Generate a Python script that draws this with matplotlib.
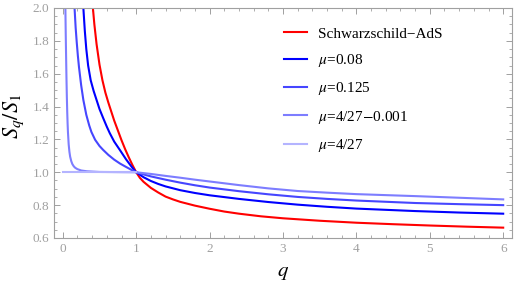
import numpy as np
import matplotlib.pyplot as plt
from matplotlib.ticker import MultipleLocator

plt.rcParams['mathtext.fontset'] = 'stix'
plt.rcParams['font.family'] = ['Liberation Serif', 'DejaVu Serif']

# values
q_sads = [0.39, 0.41, 0.43, 0.46, 0.50, 0.54, 0.58, 0.62, 0.66, 0.70, 0.75, 0.80,
          0.85, 0.90, 0.95, 1.0, 1.05, 1.1, 1.2, 1.3, 1.4, 1.5, 1.6, 1.8, 2.0,
          2.2, 2.4, 2.7, 3.0, 3.5, 4.0, 4.5, 5.0, 5.5, 6.0]
s_sads = [2.12, 2.0, 1.90, 1.78, 1.655, 1.56, 1.485, 1.425, 1.37, 1.315, 1.255, 1.195,
          1.14, 1.09, 1.043, 1.0, 0.966, 0.942, 0.905, 0.877, 0.852, 0.835, 0.82, 0.797, 0.778,
          0.761, 0.748, 0.732, 0.72, 0.705, 0.693, 0.684, 0.676, 0.669, 0.663]

q_008 = [0.27, 0.28, 0.30, 0.32, 0.345, 0.38, 0.42, 0.46, 0.50, 0.55, 0.60, 0.64,
         0.70, 0.78, 0.86, 0.94, 1.0, 1.1, 1.2, 1.3, 1.4, 1.6, 1.8, 2.0, 2.4,
         2.8, 3.2, 3.6, 4.0, 4.8, 5.4, 6.0]
s_008 = [2.1, 2.0, 1.86, 1.75, 1.65, 1.56, 1.495, 1.44, 1.385, 1.33, 1.277, 1.238,
         1.187, 1.134, 1.08, 1.032, 1.0, 0.97, 0.947, 0.929, 0.914, 0.891, 0.874, 0.86, 0.838,
         0.819, 0.803, 0.79, 0.779, 0.764, 0.755, 0.748]

q_0125 = [0.155, 0.16, 0.175, 0.19, 0.205, 0.22, 0.25, 0.28, 0.32, 0.36, 0.39, 0.44,
          0.50, 0.55, 0.62, 0.70, 0.78, 0.86, 0.93, 1.0, 1.1, 1.2, 1.4, 1.6, 1.8,
          2.0, 2.4, 2.8, 3.2, 3.6, 4.0, 4.8, 5.4, 6.0]
s_0125 = [2.1, 2.0, 1.88, 1.79, 1.71, 1.642, 1.53, 1.44, 1.35, 1.285, 1.245, 1.198,
          1.16, 1.136, 1.106, 1.077, 1.053, 1.033, 1.016, 1.0, 0.987, 0.975, 0.955, 0.937, 0.921,
          0.907, 0.885, 0.866, 0.85, 0.838, 0.828, 0.813, 0.806, 0.80]

q_near = [0.033, 0.035, 0.04, 0.045, 0.05, 0.055, 0.06, 0.065, 0.07, 0.08, 0.09, 0.10,
          0.115, 0.13, 0.15, 0.17, 0.20, 0.25, 0.33, 0.5, 0.75, 1.0, 1.2, 1.4, 1.6,
          1.8, 2.0, 2.4, 2.8, 3.2, 3.6, 4.0, 4.8, 5.4, 6.0]
s_near = [2.1, 2.0, 1.84, 1.7, 1.57, 1.46, 1.37, 1.3, 1.245, 1.17, 1.125, 1.095,
          1.068, 1.05, 1.036, 1.027, 1.019, 1.011, 1.006, 1.002, 1.001, 1.0, 0.99, 0.978, 0.967,
          0.955, 0.944, 0.922, 0.902, 0.886, 0.876, 0.867, 0.855, 0.845, 0.835]

q_ext = [0.0, 1.0]
s_ext = [1.0, 1.0]

series = [
    (q_sads, s_sads, '#ff0000', 'Schwarzschild\u2212AdS'),
    (q_008, s_008, '#0000ff', r'$\mu$=0.08'),
    (q_0125, s_0125, '#4646ff', r'$\mu$=0.125'),
    (q_near, s_near, '#7d7dff', r'$\mu$=4/27$-$0.001'),
    (q_ext, s_ext, '#b4b4ff', r'$\mu$=4/27'),
]

fig = plt.figure(figsize=(5.19, 2.90), dpi=100)
ax = fig.add_axes([54/519, 1-238/290, (512-54)/519, (238-8)/290])

for q, s, c, lab in series:
    ax.plot(q, s, color=c, lw=1.5, label=lab, solid_joinstyle='round')

ax.set_xlim(-0.12, 6.12)
ax.set_ylim(0.6, 2.0)

grey = '#a0a0a0'
for sp in ax.spines.values():
    sp.set_color(grey)
    sp.set_linewidth(0.8)
ax.xaxis.set_major_locator(MultipleLocator(1))
ax.xaxis.set_minor_locator(MultipleLocator(0.2))
ax.yaxis.set_major_locator(MultipleLocator(0.2))
ax.yaxis.set_minor_locator(MultipleLocator(0.05))
ax.yaxis.set_major_formatter(plt.FuncFormatter(lambda v, p: f'{v:.1f}'))
ax.tick_params(which='both', direction='in', top=True, right=True, color=grey,
               labelcolor=grey, labelsize=9.5)
ax.tick_params(which='major', length=4, width=0.7)
ax.tick_params(which='minor', length=2.2, width=0.6)

ax.set_xlabel(r'$q$', fontsize=15)
ax.xaxis.set_label_coords(0.5, -0.11)
ax.set_ylabel(r'$S_q/S_1$', fontsize=16)
ax.yaxis.set_label_coords(-0.062, 0.53)

ax.legend(loc='upper left', bbox_to_anchor=(284/519, 1-27/290),
          bbox_transform=fig.transFigure, frameon=False, fontsize=11,
          handlelength=1.5, handletextpad=0.7, labelspacing=0.74,
          borderpad=0, borderaxespad=0)

fig.savefig('out.png', dpi=100)
